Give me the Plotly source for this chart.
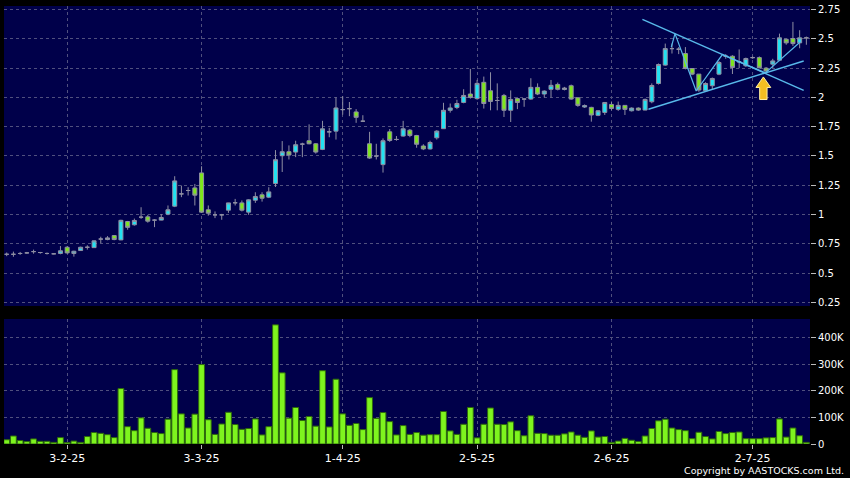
import plotly.graph_objects as go

# ---------------- data ----------------
bar_index = list(range(120))

opens = [0.66, 0.66, 0.667, 0.672, 0.683, 0.675, 0.667, 0.664, 0.667, 0.72,
         0.667, 0.692, 0.72, 0.717, 0.79, 0.786, 0.82, 0.783, 0.94, 0.912,
         0.977, 0.98, 0.952, 0.952, 1.003, 1.071, 1.176, 1.205, 1.227, 1.355,
         1.04, 0.997, 0.997, 1.037, 1.10, 1.099, 1.02, 1.122, 1.168, 1.148,
         1.265, 1.502, 1.536, 1.533, 1.601, 1.63, 1.604, 1.556, 1.706, 1.712,
         1.896, 1.904, 1.876, 1.797, 1.604, 1.499, 1.426, 1.706, 1.641, 1.67,
         1.72, 1.675, 1.585, 1.56, 1.655, 1.733, 1.89, 1.914, 1.957, 2.029,
         1.99, 2.129, 2.057, 1.974, 2.017, 1.89, 1.99, 1.986, 1.986, 2.086,
         2.029, 2.069, 2.111, 2.068, 2.10, 1.997, 1.918, 1.915, 1.847, 1.872,
         1.94, 1.898, 1.932, 1.886, 1.909, 1.892, 1.963, 2.119, 2.276, 2.417,
         2.412, 2.375, 2.247, 2.199, 2.057, 2.10, 2.199, 2.352, 2.352, 2.304,
         2.27, 2.34, 2.34, 2.25, 2.284, 2.318, 2.497, 2.503, 2.466, 2.509]

highs = [0.675, 0.683, 0.68, 0.68, 0.70, 0.68, 0.675, 0.668, 0.73, 0.73,
         0.69, 0.725, 0.737, 0.78, 0.81, 0.815, 0.825, 0.955, 0.945, 0.965,
         1.062, 0.997, 0.96, 1.003, 1.077, 1.327, 1.247, 1.233, 1.261, 1.412,
         1.077, 1.026, 1.005, 1.10, 1.133, 1.12, 1.13, 1.19, 1.19, 1.233,
         1.55, 1.627, 1.59, 1.63, 1.613, 1.77, 1.61, 1.80, 1.74, 2.0,
         2.01, 1.961, 1.90, 1.848, 1.706, 1.604, 1.65, 1.73, 1.67, 1.80,
         1.73, 1.68, 1.60, 1.63, 1.72, 1.954, 1.948, 1.98, 2.07, 2.244,
         2.15, 2.178, 2.215, 2.12, 2.03, 2.06, 2.0, 1.99, 2.164, 2.12,
         2.06, 2.149, 2.127, 2.09, 2.11, 2.0, 1.94, 1.92, 1.89, 1.96,
         1.965, 1.965, 1.935, 1.915, 1.915, 1.99, 2.12, 2.29, 2.46, 2.46,
         2.43, 2.43, 2.25, 2.20, 2.13, 2.17, 2.31, 2.37, 2.36, 2.41,
         2.34, 2.35, 2.35, 2.26, 2.33, 2.545, 2.50, 2.645, 2.574, 2.52]

lows = [0.644, 0.639, 0.655, 0.665, 0.665, 0.665, 0.658, 0.66, 0.66, 0.665,
        0.64, 0.69, 0.70, 0.715, 0.755, 0.78, 0.78, 0.78, 0.87, 0.905,
        0.963, 0.93, 0.892, 0.95, 0.994, 1.063, 1.148, 1.162, 1.077, 1.014,
        0.99, 0.969, 0.955, 1.014, 1.077, 1.026, 0.997, 1.099, 1.11, 1.14,
        1.235, 1.363, 1.47, 1.49, 1.49, 1.60, 1.52, 1.55, 1.66, 1.64,
        1.853, 1.84, 1.783, 1.79, 1.475, 1.47, 1.358, 1.62, 1.63, 1.665,
        1.66, 1.57, 1.55, 1.555, 1.64, 1.73, 1.87, 1.90, 1.95, 1.99,
        1.98, 1.905, 1.89, 1.89, 1.833, 1.79, 1.90, 1.92, 1.98, 2.02,
        2.00, 2.0, 2.06, 2.06, 1.98, 1.92, 1.91, 1.793, 1.84, 1.85,
        1.89, 1.885, 1.85, 1.88, 1.885, 1.89, 1.95, 2.11, 2.27, 2.375,
        2.37, 2.24, 2.19, 2.048, 2.05, 2.07, 2.19, 2.33, 2.20, 2.25,
        2.26, 2.33, 2.25, 2.20, 2.25, 2.31, 2.45, 2.44, 2.42, 2.45]

closes = [0.66, 0.66, 0.667, 0.672, 0.683, 0.675, 0.667, 0.664, 0.69, 0.672,
          0.686, 0.72, 0.72, 0.775, 0.79, 0.80, 0.786, 0.95, 0.89, 0.949,
          0.977, 0.943, 0.952, 0.974, 1.04, 1.287, 1.176, 1.205, 1.165, 1.02,
          1.011, 0.997, 0.997, 1.099, 1.10, 1.037, 1.125, 1.153, 1.139, 1.193,
          1.468, 1.536, 1.508, 1.596, 1.601, 1.604, 1.533, 1.732, 1.706, 1.91,
          1.896, 1.904, 1.83, 1.797, 1.482, 1.499, 1.63, 1.632, 1.641, 1.732,
          1.675, 1.60, 1.56, 1.615, 1.712, 1.89, 1.91, 1.948, 2.017, 2.0,
          2.12, 1.948, 1.966, 1.974, 1.89, 1.983, 1.957, 1.986, 2.086, 2.029,
          2.054, 2.103, 2.069, 2.08, 1.986, 1.932, 1.93, 1.85, 1.886, 1.957,
          1.906, 1.932, 1.898, 1.909, 1.892, 1.983, 2.102, 2.281, 2.417, 2.417,
          2.412, 2.247, 2.199, 2.063, 2.119, 2.162, 2.298, 2.352, 2.256, 2.304,
          2.332, 2.34, 2.253, 2.225, 2.312, 2.509, 2.466, 2.46, 2.509, 2.509]

volumes_k = [16, 30, 13, 9, 19, 10, 10, 6, 24, 5,
             11, 6, 28, 43, 40, 35, 24, 208, 65, 50,
             98, 59, 43, 39, 93, 279, 113, 60, 112, 298,
             91, 36, 75, 119, 73, 55, 58, 94, 34, 65,
             447, 267, 97, 137, 88, 103, 67, 275, 64, 243,
             113, 70, 77, 54, 174, 96, 118, 84, 34, 69,
             36, 43, 33, 35, 35, 122, 49, 36, 74, 137,
             23, 74, 135, 74, 73, 83, 50, 31, 106, 40,
             39, 33, 33, 38, 45, 33, 25, 49, 26, 28,
             6, 11, 21, 14, 9, 30, 58, 87, 93, 60,
             54, 50, 20, 44, 28, 19, 47, 39, 43, 45,
             20, 20, 20, 23, 24, 94, 26, 60, 31, 6]
volumes = [v * 1000 for v in volumes_k]

date_tick_pos = [9, 29, 50, 70, 90, 111]
date_tick_text = ["3-2-25", "3-3-25", "1-4-25", "2-5-25", "2-6-25", "2-7-25"]

price_tick_vals = [0.25, 0.5, 0.75, 1.0, 1.25, 1.5, 1.75, 2.0, 2.25, 2.5, 2.75]
price_tick_text = ["0.25", "0.5", "0.75", "1", "1.25", "1.5", "1.75", "2", "2.25", "2.5", "2.75"]

vol_tick_vals = [0, 100000, 200000, 300000, 400000]
vol_tick_text = ["0", "100K", "200K", "300K", "400K"]

# drawn pattern lines (bar index, price)
trend_down_x = [94.6, 118.6]
trend_down_y = [2.667, 2.061]
trend_up_x = [95.5, 118.6]
trend_up_y = [1.899, 2.311]
zigzag_x = [98.9, 99.45, 102.6, 106.5, 112.9, 118.2]
zigzag_y = [2.43, 2.545, 2.055, 2.366, 2.21, 2.48]

# breakout arrow outline (bar index, price)
arrow_x = [112.6, 113.7, 113.15, 113.15, 112.05, 112.05, 111.5, 112.6]
arrow_y = [2.175, 2.085, 2.085, 1.982, 1.982, 2.085, 2.085, 2.175]

# ---------------- style ----------------
NAVY = "#00004a"
GRID = "#50507e"
CYAN = "#22e2f2"
LIME = "#7ee61c"
WICK = "#8f8fa3"
LINE = "#58b9ea"
FONT = "DejaVu Sans"

fig = go.Figure()

fig.add_trace(go.Candlestick(
    x=bar_index, open=opens, high=highs, low=lows, close=closes,
    increasing=dict(fillcolor=CYAN, line=dict(color=WICK, width=1)),
    decreasing=dict(fillcolor=LIME, line=dict(color=WICK, width=1)),
    whiskerwidth=0, xaxis="x", yaxis="y", showlegend=False,
))

for xs, ys, w in [(trend_down_x, trend_down_y, 1.4),
                  (trend_up_x, trend_up_y, 1.4),
                  (zigzag_x, zigzag_y, 1.2)]:
    fig.add_trace(go.Scatter(x=xs, y=ys, mode="lines",
                             line=dict(color=LINE, width=w),
                             xaxis="x", yaxis="y", showlegend=False,
                             hoverinfo="skip"))

fig.add_trace(go.Scatter(x=arrow_x, y=arrow_y, mode="lines", fill="toself",
                         fillcolor="#f3bf22", line=dict(color="#fff0a0", width=1),
                         xaxis="x", yaxis="y", showlegend=False, hoverinfo="skip"))

fig.add_trace(go.Bar(
    x=bar_index, y=volumes, width=0.86,
    marker=dict(color="#7ef41e", line=dict(color="#2e6a0c", width=1)),
    xaxis="x2", yaxis="y2", showlegend=False,
))

xrange = [-0.4, 119.54]
axis_font = dict(family=FONT, size=10, color="#ffffff")

fig.update_layout(
    width=850, height=478,
    margin=dict(l=4, r=40, t=6, b=34),
    paper_bgcolor="#000000",
    plot_bgcolor=NAVY,
    boxgap=0.15,
    xaxis=dict(domain=[0, 1], anchor="y", range=xrange,
               rangeslider=dict(visible=False),
               tickvals=date_tick_pos, ticktext=date_tick_text,
               showticklabels=False, ticks="",
               showgrid=True, gridcolor=GRID, griddash="3px,3px", gridwidth=1,
               zeroline=False, showline=False),
    xaxis2=dict(domain=[0, 1], anchor="y2", range=xrange, matches="x",
                tickvals=date_tick_pos, ticktext=date_tick_text,
                ticks="outside", ticklen=4, tickcolor="#bbbbbb",
                tickfont=dict(family=FONT, size=11, color="#ffffff"),
                showgrid=True, gridcolor=GRID, griddash="3px,3px", gridwidth=1,
                zeroline=False, showline=False),
    yaxis=dict(domain=[0.315, 1], anchor="x", side="right",
               range=[0.218, 2.781],
               tickvals=price_tick_vals, ticktext=price_tick_text,
               ticks="outside", ticklen=5, tickcolor="#bbbbbb",
               tickfont=axis_font,
               showgrid=True, gridcolor=GRID, griddash="3px,3px", gridwidth=1,
               zeroline=False, showline=False),
    yaxis2=dict(domain=[0, 0.2854], anchor="x2", side="right",
                range=[0, 469000],
                tickvals=vol_tick_vals, ticktext=vol_tick_text,
                ticks="outside", ticklen=5, tickcolor="#bbbbbb",
                tickfont=axis_font,
                showgrid=True, gridcolor=GRID, griddash="3px,3px", gridwidth=1,
                zeroline=False, showline=False),
    annotations=[dict(text="Copyright by AASTOCKS.com Ltd.",
                      xref="paper", yref="paper", x=1.0447, y=-0.0616,
                      xanchor="right", yanchor="middle", showarrow=False,
                      font=dict(family=FONT, size=9.5, color="#ffffff"))],
    showlegend=False,
)

fig.write_html("out.html",
               config={"displayModeBar": False},
               post_script="document.body.style.margin='0';"
                           "document.body.style.background='#000000';")
